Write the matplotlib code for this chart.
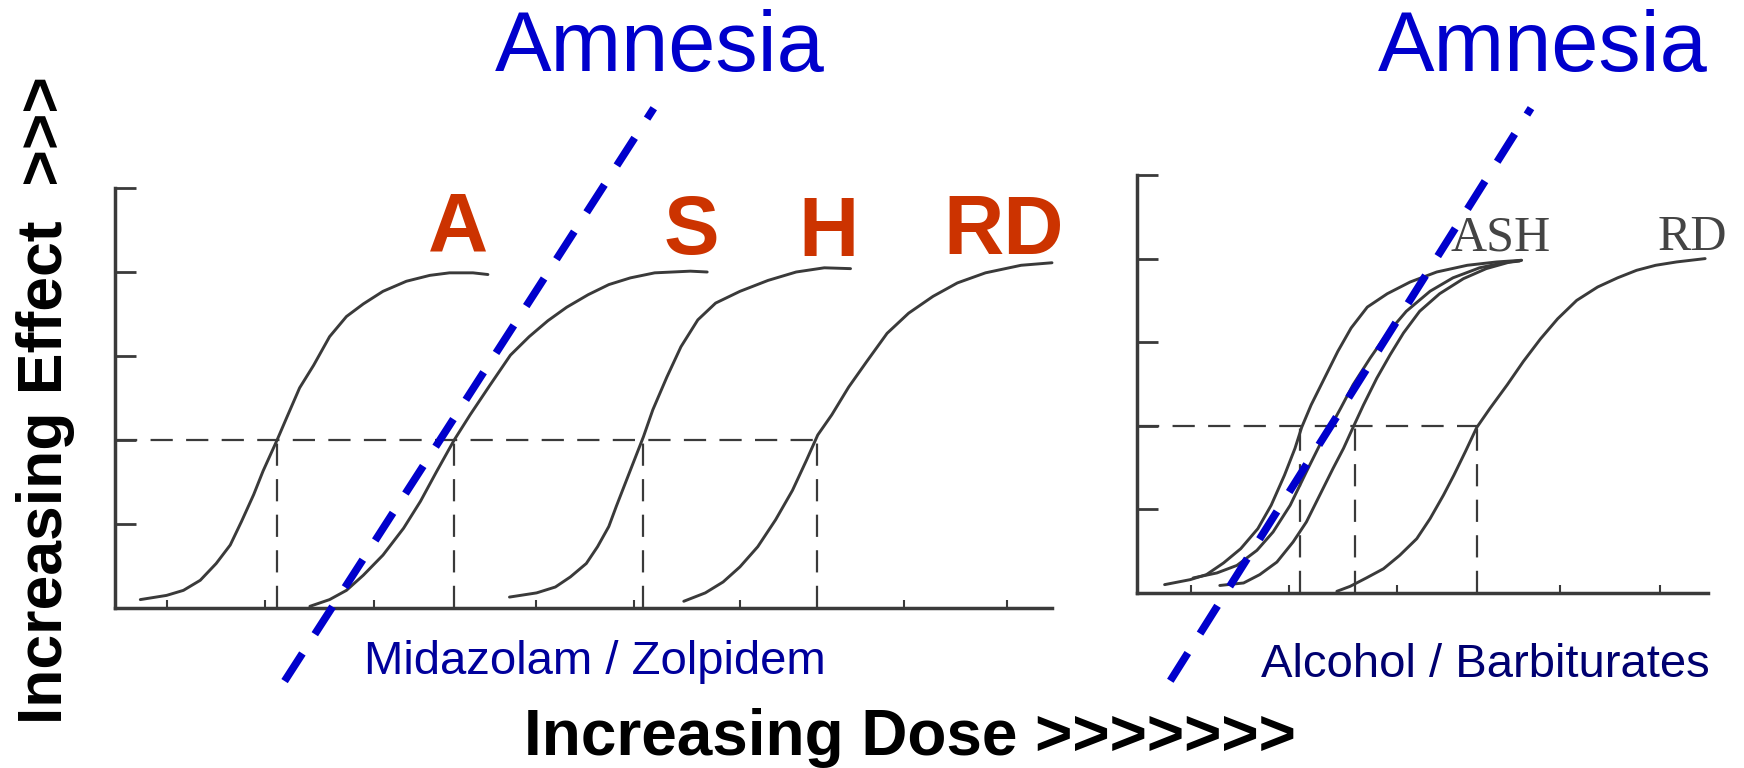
import matplotlib
matplotlib.use("Agg")
import matplotlib.pyplot as plt

# ---------------- data ----------------
# Left panel: Midazolam / Zolpidem  (dose units 0..10, effect units 0..5)
curve_A_x = [0.27, 0.55, 0.73, 0.91, 1.08, 1.23, 1.35, 1.48, 1.58, 1.73, 1.83, 1.97, 2.12,
             2.29, 2.47, 2.65, 2.86, 3.11, 3.36, 3.57, 3.82, 3.98]
curve_A_y = [0.10, 0.15, 0.21, 0.33, 0.53, 0.75, 1.03, 1.35, 1.63, 2.00, 2.26, 2.62, 2.89,
             3.23, 3.47, 3.62, 3.77, 3.89, 3.96, 3.99, 3.99, 3.97]
curve_S_x = [2.08, 2.29, 2.47, 2.65, 2.86, 3.08, 3.26, 3.43, 3.62, 3.79, 4.00, 4.22, 4.42,
             4.62, 4.82, 5.05, 5.27, 5.50, 5.76, 6.14, 6.32]
curve_S_y = [0.02, 0.10, 0.21, 0.39, 0.63, 0.95, 1.27, 1.62, 2.00, 2.30, 2.65, 3.01, 3.23,
             3.42, 3.58, 3.73, 3.85, 3.93, 3.99, 4.01, 4.00]
curve_H_x = [4.21, 4.50, 4.70, 4.86, 5.03, 5.15, 5.27, 5.35, 5.50, 5.64, 5.74, 5.89, 6.04,
             6.22, 6.41, 6.67, 6.97, 7.27, 7.57, 7.85]
curve_H_y = [0.13, 0.18, 0.25, 0.37, 0.53, 0.73, 0.97, 1.21, 1.64, 2.04, 2.36, 2.75, 3.11,
             3.43, 3.63, 3.77, 3.90, 4.00, 4.05, 4.04]
curve_RD_x = [6.07, 6.30, 6.49, 6.67, 6.86, 7.05, 7.23, 7.38, 7.50, 7.65, 7.83, 8.02, 8.24,
              8.47, 8.73, 8.99, 9.29, 9.67, 10.0]
curve_RD_y = [0.08, 0.18, 0.31, 0.49, 0.73, 1.05, 1.40, 1.76, 2.06, 2.30, 2.63, 2.93, 3.27,
              3.51, 3.71, 3.87, 3.99, 4.08, 4.11]
left_midpoints = [1.73, 3.62, 5.64, 7.49]
left_half_effect = 2.0
left_xticks = [0.55, 1.60, 2.76, 4.49, 5.54, 6.67, 8.42, 9.52]
left_labels = ["A", "S", "H", "RD"]
left_label_x = [3.66, 6.15, 7.61, 9.48]
left_label_y = [4.24, 4.21, 4.19, 4.21]
left_amnesia_x = [1.81, 5.75]
left_amnesia_y = [-0.87, 5.95]

# Right panel: Alcohol / Barbiturates (dose units 0..6)
curve_a_x = [0.29, 0.56, 0.73, 0.91, 1.09, 1.27, 1.41, 1.55, 1.66, 1.73, 1.83, 1.97, 2.11,
             2.25, 2.42, 2.63, 2.87, 3.15, 3.47, 3.78, 4.04]
curve_a_y = [0.10, 0.16, 0.22, 0.36, 0.53, 0.77, 1.05, 1.41, 1.73, 1.98, 2.25, 2.57, 2.89,
             3.17, 3.42, 3.58, 3.72, 3.84, 3.92, 3.96, 3.98]
curve_b_x = [0.59, 0.84, 1.05, 1.26, 1.43, 1.61, 1.78, 1.92, 2.03, 2.14, 2.27, 2.45, 2.62,
             2.83, 3.08, 3.32, 3.60, 3.85, 4.02]
curve_b_y = [0.18, 0.24, 0.33, 0.51, 0.73, 1.05, 1.45, 1.77, 1.98, 2.21, 2.49, 2.81, 3.09,
             3.37, 3.61, 3.77, 3.89, 3.95, 3.97]
curve_c_x = [0.87, 1.12, 1.29, 1.47, 1.64, 1.78, 1.92, 2.06, 2.17, 2.27, 2.38, 2.52, 2.66,
             2.80, 2.97, 3.18, 3.43, 3.67, 3.92, 4.04]
curve_c_y = [0.09, 0.12, 0.22, 0.37, 0.61, 0.85, 1.17, 1.49, 1.73, 1.98, 2.25, 2.57, 2.85,
             3.11, 3.37, 3.58, 3.76, 3.88, 3.96, 3.98]
curve_rd_x = [2.10, 2.24, 2.41, 2.59, 2.76, 2.94, 3.08, 3.22, 3.33, 3.45, 3.57, 3.71, 3.89,
              4.06, 4.24, 4.42, 4.62, 4.84, 5.05, 5.25, 5.45, 5.67, 5.97]
curve_rd_y = [0.02, 0.08, 0.18, 0.29, 0.45, 0.65, 0.89, 1.17, 1.41, 1.69, 1.98, 2.21, 2.49,
              2.77, 3.04, 3.28, 3.50, 3.66, 3.77, 3.86, 3.92, 3.96, 4.00]
right_midpoints = [1.71, 2.29, 3.57]
right_half_effect = 2.0
right_xticks = [0.57, 1.60, 2.73, 4.44, 5.50]
right_labels = ["ASH", "RD"]
right_label_x = [3.82, 5.83]
right_label_y = [4.10, 4.10]
right_amnesia_x = [0.35, 4.14]
right_amnesia_y = [-1.05, 5.80]

yticks = [1, 2, 3, 4, 5]

# ---------------- styles ----------------
W, H = 1744, 768
INK = "#3a3a3a"
BLUE = "#0000CC"
RED = "#CC3300"
SANS = ["Liberation Sans", "DejaVu Sans"]
SERIF = ["Liberation Serif", "DejaVu Serif"]

fig = plt.figure(figsize=(W / 100, H / 100), dpi=100)
fig.patch.set_facecolor("white")

axL = fig.add_axes([115 / W, 1 - 608 / H, 937 / W, 420 / H])
axR = fig.add_axes([1137 / W, 1 - 593 / H, 571 / W, 418 / H])


def style_axes(ax, xmax, xticks):
    ax.set_xlim(0, xmax)
    ax.set_ylim(0, 5)
    ax.patch.set_visible(False)
    for s in ("top", "right"):
        ax.spines[s].set_visible(False)
    for s in ("left", "bottom"):
        ax.spines[s].set_linewidth(2.5)
        ax.spines[s].set_color(INK)
        ax.spines[s].set_capstyle("projecting")
    ax.set_yticks(yticks)
    ax.set_yticklabels([])
    ax.set_xticks(xticks)
    ax.set_xticklabels([])
    ax.tick_params(axis="y", direction="in", length=15, width=2.0, color=INK)
    ax.tick_params(axis="x", direction="in", length=6, width=1.5, color=INK)


style_axes(axL, 10, left_xticks)
style_axes(axR, 6, right_xticks)

curve_kw = dict(color=INK, lw=2.1, solid_joinstyle="round", solid_capstyle="round", clip_on=False)
dash_kw = dict(color=INK, lw=1.6, ls=(0, (10, 6.0)), clip_on=False)
blue_kw = dict(color=BLUE, lw=5.5, ls=(0, (4.3, 3.0)), dash_capstyle="butt", clip_on=False, zorder=6)

# left panel
for xs, ys in ((curve_A_x, curve_A_y), (curve_S_x, curve_S_y),
               (curve_H_x, curve_H_y), (curve_RD_x, curve_RD_y)):
    axL.plot(xs, ys, **curve_kw)
axL.plot([0, max(left_midpoints)], [left_half_effect, left_half_effect], **dash_kw)
for m in left_midpoints:
    axL.plot([m, m], [0, left_half_effect], **dash_kw)
axL.plot(left_amnesia_x, left_amnesia_y, **blue_kw)
for t, x, y in zip(left_labels, left_label_x, left_label_y):
    axL.text(x, y, t, ha="center", va="baseline", color=RED, fontsize=60,
             fontweight="bold", family=SANS)

# right panel
for xs, ys in ((curve_a_x, curve_a_y), (curve_b_x, curve_b_y),
               (curve_c_x, curve_c_y), (curve_rd_x, curve_rd_y)):
    axR.plot(xs, ys, **curve_kw)
axR.plot([0, max(right_midpoints)], [right_half_effect, right_half_effect], **dash_kw)
for m in right_midpoints:
    axR.plot([m, m], [0, right_half_effect], **dash_kw)
axR.plot(right_amnesia_x, right_amnesia_y, **blue_kw)
for t, x, y in zip(right_labels, right_label_x, right_label_y):
    axR.text(x, y, t, ha="center", va="baseline", color="#444444", fontsize=36,
             family=SERIF)

# figure texts
fig.text(660 / W, 1 - 71 / H, "Amnesia", ha="center", va="baseline", color=BLUE,
         fontsize=61, family=SANS)
fig.text(1543 / W, 1 - 71 / H, "Amnesia", ha="center", va="baseline", color=BLUE,
         fontsize=61, family=SANS)
fig.text(595 / W, 1 - 674 / H, "Midazolam / Zolpidem", ha="center", va="baseline",
         color="#00009C", fontsize=34, family=SANS)
fig.text(1485 / W, 1 - 677 / H, "Alcohol / Barbiturates", ha="center", va="baseline",
         color="#000070", fontsize=34, family=SANS)
fig.text(910 / W, 1 - 755 / H, "Increasing Dose >>>>>>>", ha="center", va="baseline",
         color="black", fontsize=46, fontweight="bold", family=SANS)
fig.text(62 / W, 1 - 400 / H, "Increasing Effect  >>>", ha="center", va="baseline",
         rotation=90, rotation_mode="anchor", color="black", fontsize=45,
         fontweight="bold", family=SANS)

fig.savefig("out.png", dpi=100, facecolor="white")
